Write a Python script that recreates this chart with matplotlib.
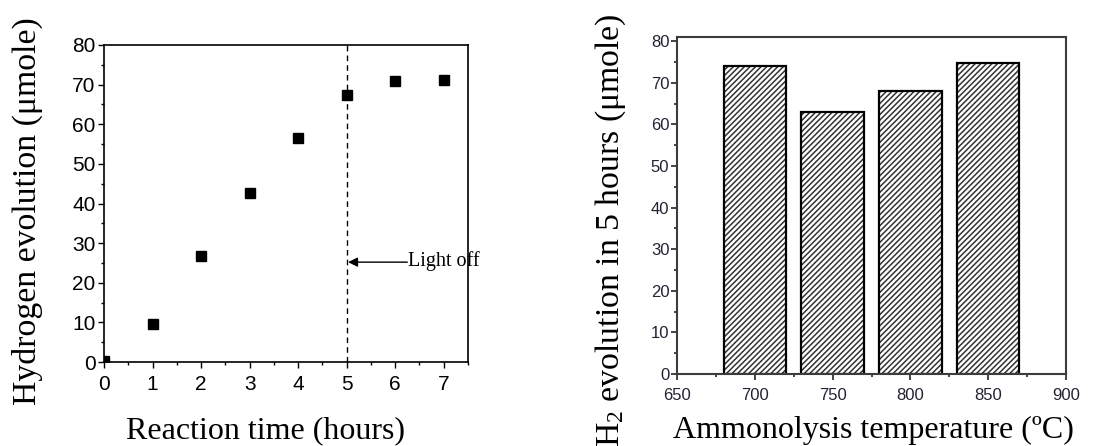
import matplotlib
matplotlib.use("Agg")
import matplotlib.pyplot as plt
from matplotlib.ticker import MultipleLocator

# ─── Data ─────────────────────────────────────────────────────────────────────
time_h      = [0, 1, 2, 3, 4, 5, 6, 7]
h2_umol     = [0.3, 9.7, 26.8, 42.7, 56.6, 67.5, 70.8, 71.1]
light_off_t = 5

temps_c     = [700, 750, 800, 850]
h2_5h_umol  = [74.0, 63.0, 68.0, 74.8]

# ─── Style ────────────────────────────────────────────────────────────────────
SANS  = "Liberation Sans"
SERIF = "Liberation Serif"
plt.rcParams["mathtext.fontset"] = "custom"
plt.rcParams["mathtext.rm"] = SERIF
plt.rcParams["hatch.linewidth"] = 1.1

fig = plt.figure(figsize=(11.13, 4.46), dpi=100)
W, H = 1113, 446

def px_axes(l, t, r, b):
    return fig.add_axes([l / W, 1 - b / H, (r - l) / W, (b - t) / H])

# ─── Left: hydrogen evolution vs time ─────────────────────────────────────────
ax1 = px_axes(104, 45, 468, 362)
ax1.plot(time_h, h2_umol, "s", color="black", ms=7.5)
ax1.axvline(light_off_t, color="black", lw=1, ls=(0, (4, 3)))
ax1.annotate("", xy=(light_off_t + 0.03, 25.2), xytext=(6.25, 25.2),
             arrowprops=dict(arrowstyle="-|>", color="black", lw=1,
                             mutation_scale=14, shrinkA=0, shrinkB=0))
ax1.text(6.27, 25.4, "Light off", fontfamily=SERIF, fontsize=14.5,
         va="center", ha="left", clip_on=False)
ax1.set_xlim(0, 7.5)
ax1.set_ylim(0, 80)
ax1.xaxis.set_major_locator(MultipleLocator(1))
ax1.xaxis.set_minor_locator(MultipleLocator(0.5))
ax1.yaxis.set_major_locator(MultipleLocator(10))
ax1.yaxis.set_minor_locator(MultipleLocator(5))
ax1.tick_params(which="major", direction="out", length=4, width=1, labelsize=15)
ax1.tick_params(which="minor", direction="out", length=2.3, width=1)
ax1.tick_params(axis="x", which="major", pad=5)
ax1.tick_params(axis="y", which="major", pad=2)
for lab in ax1.get_xticklabels() + ax1.get_yticklabels():
    lab.set_fontfamily(SANS)
for sp in ax1.spines.values():
    sp.set_linewidth(1.2)

fig.text(266 / W, 1 - 438 / H, "Reaction time (hours)", fontfamily=SERIF,
         fontsize=23, ha="center", va="baseline")
fig.text(27 / W, 1 - 211 / H, "Hydrogen evolution (\u03bcmole)", fontfamily=SERIF,
         fontsize=24.3, ha="center", va="center", rotation=90)

# ─── Right: H2 in 5 h vs ammonolysis temperature ─────────────────────────────
ax2 = px_axes(677, 37, 1066, 374)
ax2.bar(temps_c, h2_5h_umol, width=40, color="white", edgecolor="#333333",
        hatch="//////", lw=0)
ax2.bar(temps_c, h2_5h_umol, width=40, fill=False, edgecolor="black", lw=1.6)
ax2.set_xlim(650, 900)
ax2.set_ylim(0, 81)
ax2.xaxis.set_major_locator(MultipleLocator(50))
ax2.xaxis.set_minor_locator(MultipleLocator(25))
ax2.yaxis.set_major_locator(MultipleLocator(10))
ax2.yaxis.set_minor_locator(MultipleLocator(5))
ax2.tick_params(which="major", direction="out", length=4, width=1.2,
                labelsize=12, colors="#222233")
ax2.tick_params(which="minor", direction="out", length=2.5, width=1.2,
                color="#222233")
ax2.tick_params(axis="x", which="major", pad=6)
ax2.tick_params(axis="y", which="major", pad=1.5)
for lab in ax2.get_xticklabels() + ax2.get_yticklabels():
    lab.set_fontfamily(SANS)
for sp in ax2.spines.values():
    sp.set_linewidth(1.5)
    sp.set_color("#3c3c3c")

fig.text(873 / W, 1 - 438 / H, "Ammonolysis temperature (\u00baC)", fontfamily=SERIF,
         fontsize=23, ha="center", va="baseline")
# label runs past the bottom edge in the original as well
fig.text(611 / W, 1 - 13 / H, "$\\mathrm{H_2}$ evolution in 5 hours (\u03bcmole)",
         fontfamily=SERIF, fontsize=24.3, ha="center", va="top", rotation=90)

plt.savefig("out.png", dpi=100)
